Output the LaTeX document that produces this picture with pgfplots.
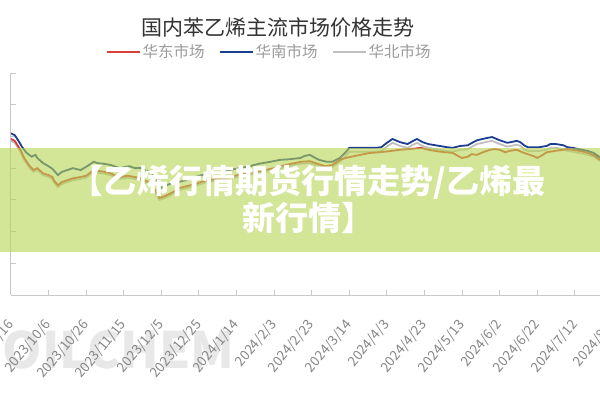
\documentclass[border=0pt]{standalone}
\usepackage{pgfplots}
\pgfplotsset{compat=1.18}
\usepackage{pgfplotstable}
\usepackage{fontspec}
\setmainfont{Noto Sans CJK SC}
\newfontfamily\cjk{Noto Sans CJK SC}
\definecolor{cred}{RGB}{214,66,58}
\definecolor{cblue}{RGB}{28,62,145}
\definecolor{cgray}{RGB}{192,192,192}
\definecolor{axgray}{RGB}{200,200,200}
\definecolor{bandc}{RGB}{183,212,80}
\definecolor{lblgray}{RGB}{135,135,135}

\pgfplotstableread{
d v
0 9550
2 9520
4 9430
6 9330
8 9250
11 9180
13 9210
14 9160
17 9080
20 9030
22 8990
25 8890
27 8940
30 8970
33 9000
37 8970
40 9020
44 9100
46 9080
49 9070
53 9050
55 9030
58 9000
61 9020
63 9030
66 9000
69 9000
71 8970
74 8940
77 8840
78 8730
80 8690
82 8720
86 8770
89 8780
93 8810
96 8840
100 8880
106 8920
111 8940
116 8970
122 9000
127 9030
132 9070
138 9100
143 9130
148 9140
154 9160
156 9190
159 9210
162 9160
164 9130
168 9100
171 9100
175 9160
178 9250
180 9320
184 9320
189 9320
194 9320
197 9330
200 9400
203 9460
207 9410
211 9380
214 9430
216 9460
219 9410
222 9380
226 9360
228 9350
232 9330
235 9320
239 9350
243 9360
246 9410
248 9440
251 9460
254 9480
256 9490
260 9440
264 9400
266 9410
269 9430
271 9410
273 9360
275 9330
279 9330
281 9330
285 9350
287 9380
290 9380
294 9360
296 9330
299 9320
302 9300
304 9290
307 9270
310 9240
313 9180
319 9100
}\southdata

\pgfplotstableread{
d v
0 9460
2 9430
5 9290
7 9160
10 9030
12 8970
14 9000
17 8920
20 8890
22 8860
23 8800
25 8730
27 8780
30 8810
33 8840
37 8860
40 8880
44 8970
46 8960
50 8940
53 8920
55 8890
58 8860
62 8880
66 8860
69 8840
73 8780
76 8690
78 8580
79 8530
82 8560
86 8620
90 8690
94 8720
98 8750
103 8800
109 8830
114 8840
119 8880
124 8910
130 8940
135 8970
140 9000
146 9050
151 9080
154 9100
159 9110
163 9070
167 9030
171 9050
175 9130
178 9160
181 9180
186 9210
191 9240
196 9250
202 9270
207 9290
212 9300
218 9320
222 9290
226 9270
231 9250
235 9240
238 9190
240 9160
243 9180
245 9220
248 9210
251 9250
255 9290
257 9300
260 9290
263 9250
265 9270
269 9290
273 9240
278 9190
280 9160
283 9210
285 9250
289 9270
296 9300
299 9290
303 9270
307 9240
311 9190
313 9140
319 9080
}\eastdata

\pgfplotstableread{
d v
0 9430
2 9400
5 9260
7 9130
10 9000
12 8940
14 8970
17 8890
20 8860
22 8830
23 8770
25 8700
27 8750
30 8780
33 8810
37 8830
40 8850
44 8940
46 8930
50 8910
53 8890
55 8860
58 8830
62 8850
66 8830
69 8810
73 8750
76 8660
78 8550
79 8500
82 8530
86 8590
90 8660
94 8690
98 8720
103 8770
109 8800
114 8810
119 8850
124 8880
130 8910
135 8940
140 8970
146 9020
151 9050
154 9070
159 9080
163 9040
167 9000
171 9020
175 9100
178 9190
180 9260
184 9260
189 9260
194 9260
197 9270
200 9340
203 9400
207 9350
211 9320
214 9370
216 9400
219 9350
222 9320
226 9300
228 9290
232 9270
235 9260
239 9290
243 9300
246 9350
248 9380
251 9400
254 9420
256 9430
260 9380
264 9340
266 9350
269 9370
271 9350
273 9300
275 9270
279 9270
281 9270
285 9290
287 9320
290 9320
294 9300
296 9270
299 9260
302 9240
304 9230
307 9210
310 9180
313 9120
319 9040
}\northdata

\begin{document}
\begin{tikzpicture}[x=1pt,y=1pt]
\useasboundingbox (0,0) rectangle (600,400);
\clip (0,0) rectangle (600,400);
\fill[white] (0,0) rectangle (600,400);
% watermark
\node[anchor=east, text=black!9, font=\fontsize{50}{50}\selectfont\bfseries, inner sep=0pt] at (235,50) {OILCHEM};
% title
\node[text={rgb,255:red,51;green,51;blue,51}, font=\cjk\fontsize{21}{21}\selectfont] at (278,372) {国内苯乙烯主流市场价格走势};
\begin{axis}[
  at={(11pt,105pt)}, anchor=south west,
  scale only axis, width=639pt, height=222pt,
  xmin=0, xmax=340, ymin=7000, ymax=10500,
  axis x line*=bottom, axis y line*=left,
  axis line style={axgray, line width=1pt},
  tick style={axgray, line width=1pt},
  tick align=inside, major tick length=5pt,
  xtick={0,20,...,340},
  xticklabels={2023/9/16,2023/10/6,2023/10/26,2023/11/15,2023/12/5,2023/12/25,2024/1/14,2024/2/3,2024/2/23,2024/3/14,2024/4/3,2024/4/23,2024/5/13,2024/6/2,2024/6/22,2024/7/12,2024/8/1,2024/8/21},
  xticklabel style={rotate=50, anchor=east, text=lblgray, font=\fontsize{13.5}{13.5}\selectfont, inner sep=0pt},
  xticklabel shift=27pt,
  ytick={7000,7500,...,10500},
  yticklabels={},
  scaled y ticks=false,
  legend columns=3,
  legend style={at={(axis description cs:0.404,1.095)}, anchor=center, draw=none, fill=none,
    font=\cjk\fontsize{15.5}{15.5}\selectfont, text={rgb,255:red,155;green,155;blue,155},
    /tikz/every even column/.append style={column sep=12pt}},
  legend image code/.code={\draw[#1] (0pt,0pt) -- (33pt,0pt);},
]
\addlegendimage{cred, line width=2pt}
\addlegendentry{华东市场}
\addlegendimage{cblue, line width=2pt}
\addlegendentry{华南市场}
\addlegendimage{cgray, line width=2pt}
\addlegendentry{华北市场}
\addplot[forget plot, cgray, line width=1.8pt] table[x=d, y=v] {\northdata};
\addplot[forget plot, cred, line width=1.8pt] table[x=d, y=v] {\eastdata};
\addplot[forget plot, cblue, line width=1.8pt] table[x=d, y=v] {\southdata};
\end{axis}
% banner
\fill[bandc, opacity=0.6] (0,148) rectangle (600,252);
\node[text=white, font=\cjk\bfseries\fontsize{33}{36}\selectfont, inner sep=0pt] at (308,218) {【乙烯行情期货行情走势/乙烯最};
\node[text=white, font=\cjk\bfseries\fontsize{33}{36}\selectfont, inner sep=0pt] at (308,182) {新行情】};
\end{tikzpicture}
\end{document}
